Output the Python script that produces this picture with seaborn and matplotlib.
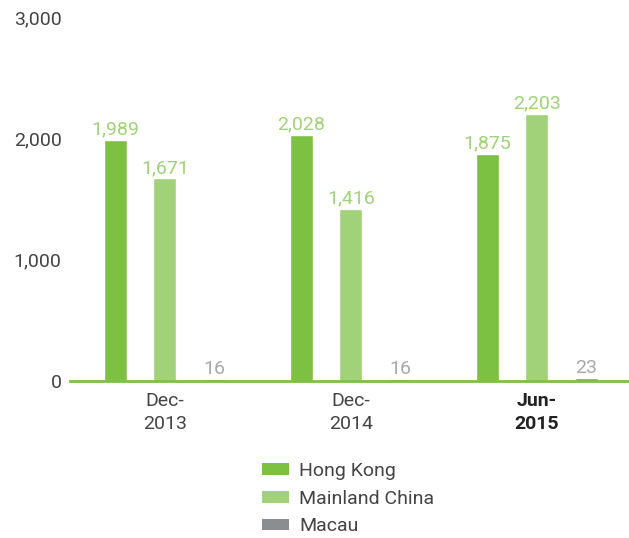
import matplotlib
matplotlib.use("Agg")
import matplotlib.pyplot as plt
import seaborn as sns
import pandas as pd
from matplotlib.patches import Patch

periods = ["Dec-\n2013", "Dec-\n2014", "Jun-\n2015"]
regions = ["Hong Kong", "Mainland China", "Macau"]
hong_kong = [1989, 2028, 1875]
mainland = [1671, 1416, 2203]
macau = [16, 16, 23]
yticks = [0, 1000, 2000, 3000]

colors = {"Hong Kong": "#7dc142", "Mainland China": "#a1d27a", "Macau": "#8c8d91"}
label_colors = {"Hong Kong": "#a1d27a", "Mainland China": "#a1d27a", "Macau": "#a8a8a8"}

rows = []
for p, a, b, c in zip(periods, hong_kong, mainland, macau):
    rows += [(p, "Hong Kong", a), (p, "Mainland China", b), (p, "Macau", c)]
df = pd.DataFrame(rows, columns=["period", "region", "value"])

sns.set_style("white")
plt.rcParams["font.family"] = ["Roboto", "DejaVu Sans"]
FS = 14
TC = "#444444"

fig = plt.figure(figsize=(6.29, 5.38), dpi=100)
ax = fig.add_axes([70/629, 157/538, 558/629, 364/538])
sns.barplot(data=df, x="period", y="value", hue="region", order=periods,
            hue_order=regions, palette=colors, width=0.8, gap=0.54,
            saturation=1, ax=ax, legend=False)

for cont, reg in zip(ax.containers, regions):
    labels = [f"{v:,.0f}" for v in cont.datavalues]
    ax.bar_label(cont, labels=labels, padding=1, fontsize=FS,
                 color=label_colors[reg])

ax.set_xlim(-0.51, 2.49)
ax.set_ylim(0, 3000)
ax.set_yticks(yticks)
ax.set_yticklabels([f"{v:,}" for v in yticks], fontsize=FS, color=TC)
ax.tick_params(axis="both", length=0)
ax.tick_params(axis="y", pad=6)
ax.tick_params(axis="x", pad=8)
ax.set_xticks(range(len(periods)))
ax.set_xticklabels(periods, fontsize=FS, color=TC, linespacing=1.35)
ax.get_xticklabels()[2].set_fontweight("bold")
ax.get_xticklabels()[2].set_color("#222222")
ax.set_xlabel("")
ax.set_ylabel("")
for s in ["top", "right", "left"]:
    ax.spines[s].set_visible(False)
ax.spines["bottom"].set_color("#7dc142")
ax.spines["bottom"].set_linewidth(2)

handles = [Patch(facecolor=colors[r], edgecolor="none", label=r) for r in regions]
leg = fig.legend(handles=handles, loc="upper left",
                 bbox_to_anchor=(262/629, 1 - 462/538), borderpad=0,
                 borderaxespad=0, frameon=False, handlelength=1.4,
                 handleheight=0.55, labelspacing=0.5, handletextpad=0.5,
                 labelcolor=TC, prop={"size": FS})

fig.savefig("out.png", dpi=100)
